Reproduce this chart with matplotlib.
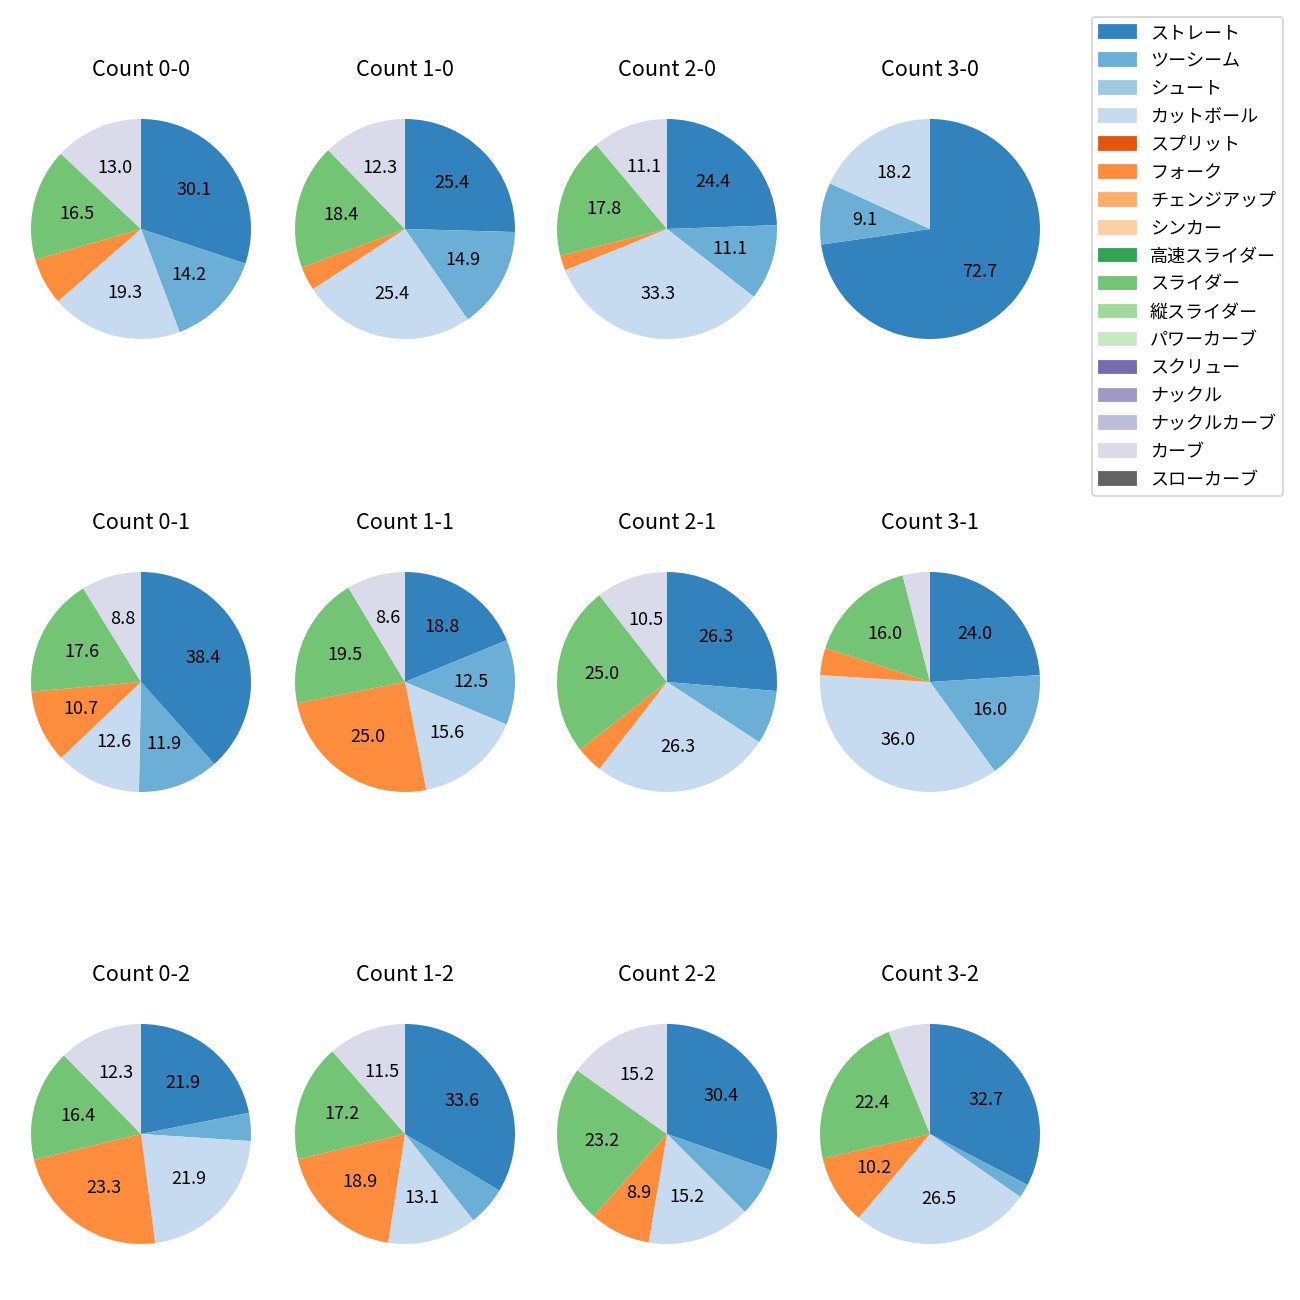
import matplotlib
matplotlib.use("Agg")
import matplotlib.pyplot as plt
from matplotlib.patches import Patch

plt.rcParams["font.family"] = ["Noto Sans CJK JP", "DejaVu Sans"]

pitch_types = [
    "ストレート", "ツーシーム", "シュート", "カットボール", "スプリット", "フォーク",
    "チェンジアップ", "シンカー", "高速スライダー", "スライダー", "縦スライダー",
    "パワーカーブ", "スクリュー", "ナックル", "ナックルカーブ", "カーブ", "スローカーブ",
]
cmap = plt.get_cmap("tab20c")
pitch_colors = [cmap(i) for i in range(len(pitch_types))]

# pitch counts per ball-strike count (only the types that were thrown)
# order: ストレート, ツーシーム, カットボール, フォーク, スライダー, カーブ
used_types = ["ストレート", "ツーシーム", "カットボール", "フォーク", "スライダー", "カーブ"]
count_labels = [
    "Count 0-0", "Count 1-0", "Count 2-0", "Count 3-0",
    "Count 0-1", "Count 1-1", "Count 2-1", "Count 3-1",
    "Count 0-2", "Count 1-2", "Count 2-2", "Count 3-2",
]
c00 = [30.1, 14.2, 19.3, 6.9, 16.5, 13.0]
c10 = [29, 17, 29, 4, 21, 14]
c20 = [11, 5, 15, 1, 8, 5]
c30 = [8, 1, 2, 0, 0, 0]
c01 = [38.4, 11.9, 12.6, 10.7, 17.6, 8.8]
c11 = [18.8, 12.5, 15.6, 25.0, 19.5, 8.6]
c21 = [20, 6, 20, 3, 19, 8]
c31 = [6, 4, 9, 1, 4, 1]
c02 = [16, 3, 16, 17, 12, 9]
c12 = [41, 7, 16, 23, 21, 14]
c22 = [34, 8, 17, 10, 26, 17]
c32 = [16, 1, 13, 5, 11, 3]
all_counts = [c00, c10, c20, c30, c01, c11, c21, c31, c02, c12, c22, c32]

fig = plt.figure(figsize=(10, 10), dpi=130)

# pie centres in pixels of the 1300x1300 output
col_centers = [141, 405, 667, 930]
row_centers = [229, 682, 1134]
size = 275

for i, (label, vals) in enumerate(zip(count_labels, all_counts)):
    r, c = divmod(i, 4)
    cx, cy = col_centers[c], row_centers[r]
    ax = fig.add_axes([(cx - size / 2) / 1300, 1 - (cy + size / 2) / 1300,
                       size / 1300, size / 1300])
    v = [x for x in vals if x > 0]
    cols = [pitch_colors[pitch_types.index(t)] for t, x in zip(used_types, vals) if x > 0]
    ax.pie(v, colors=cols, startangle=90, counterclock=False,
           autopct=lambda p: f"{p:.1f}" if p >= 8 else "")
    ax.set_title(label, pad=8.5)

handles = [Patch(color=col, label=name) for name, col in zip(pitch_types, pitch_colors)]
fig.legend(handles=handles, loc="upper right", bbox_to_anchor=(0.994, 0.994),
           labelspacing=0.55)

fig.savefig("out.png")
